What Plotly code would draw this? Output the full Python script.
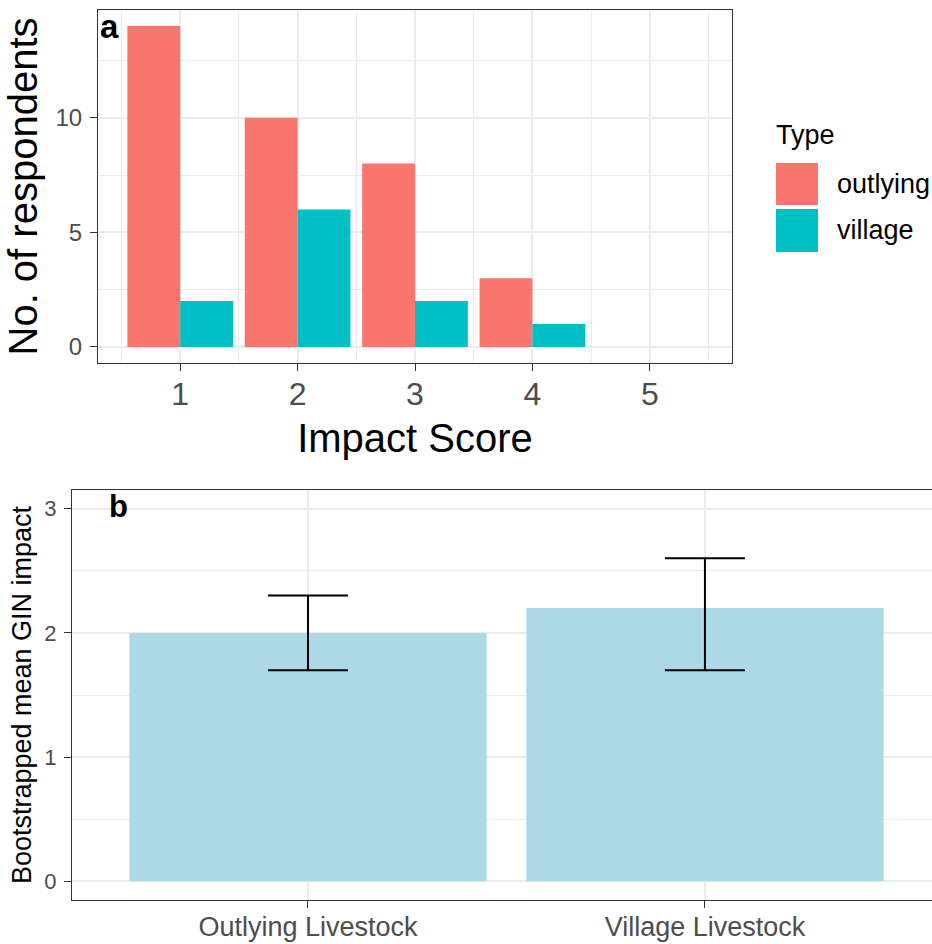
import plotly.graph_objects as go

# ---- data panel a ----
impact_scores = [1, 2, 3, 4]
score_ticks = [1, 2, 3, 4, 5]
outlying_counts = [14, 10, 8, 3]
village_counts = [2, 6, 2, 1]
count_ticks = [0, 5, 10]

# ---- data panel b ----
groups = ["Outlying Livestock", "Village Livestock"]
boot_mean = [2.0, 2.2]
ci_low = [1.7, 1.7]
ci_high = [2.3, 2.6]
gin_ticks = [0, 1, 2, 3]

RED = "#F8766D"
TEAL = "#00BFC4"
FONT = "Liberation Sans, Arial, sans-serif"
W, H = 932, 944

def px(x):
    return x / W

def py(y):
    return 1 - y / H

fig = go.Figure()

fig.add_trace(go.Bar(x=impact_scores, y=outlying_counts, name="outlying",
                     marker=dict(color=RED, line=dict(width=0)),
                     xaxis="x", yaxis="y", showlegend=False))
fig.add_trace(go.Bar(x=impact_scores, y=village_counts, name="village",
                     marker=dict(color=TEAL, line=dict(width=0)),
                     xaxis="x", yaxis="y", showlegend=False))

err_plus = [h - m for h, m in zip(ci_high, boot_mean)]
err_minus = [m - l for m, l in zip(boot_mean, ci_low)]
fig.add_trace(go.Bar(x=[1, 2], y=boot_mean, marker=dict(color="#ADD8E6", line=dict(width=0)),
                     width=0.9, xaxis="x2", yaxis="y2", showlegend=False,
                     error_y=dict(type="data", symmetric=False, array=err_plus,
                                  arrayminus=err_minus, color="black",
                                  thickness=2, width=40)))

grid = "#EBEBEB"
border = "#333333"
tickc = "#4D4D4D"

common = dict(showline=True, linecolor=border, linewidth=1.2, ticks="outside",
              ticklen=7, tickcolor=border, tickwidth=1.2, gridcolor=grid,
              gridwidth=1.5, zeroline=False, automargin=False)

fig.update_layout(
    width=W, height=H, margin=dict(l=0, r=0, t=0, b=0, autoexpand=False),
    plot_bgcolor="white", paper_bgcolor="white",
    barmode="group", bargap=0.1, bargroupgap=0,
    font=dict(family=FONT, color="black"),
    xaxis=dict(domain=[px(98), px(732)], anchor="y", range=[0.3, 5.7],
               tickvals=score_ticks, ticktext=[str(v) for v in score_ticks],
               mirror=True, tickfont=dict(size=32, color=tickc), ticklabelstandoff=-5,
               minor=dict(tickvals=[0.5, 1.5, 2.5, 3.5, 4.5, 5.5], showgrid=True,
                          gridcolor=grid, gridwidth=0.9, ticks=""),
               title=dict(text="Impact Score", font=dict(size=40, color="black"), standoff=13),
               **common),
    yaxis=dict(domain=[py(363), py(10)], anchor="x", range=[-0.7, 14.7],
               tickvals=count_ticks, ticktext=[str(v) for v in count_ticks],
               mirror=True, tickfont=dict(size=24, color=tickc), ticklabelstandoff=3,
               minor=dict(tickvals=[2.5, 7.5, 12.5], showgrid=True,
                          gridcolor=grid, gridwidth=0.9, ticks=""),
               title=dict(text="No. of respondents", font=dict(size=40, color="black"), standoff=5),
               **common),
    xaxis2=dict(domain=[px(72), 1.0], anchor="y2", range=[0.4055, 2.572],
                tickvals=[1, 2], ticktext=groups, mirror=True, ticklabelstandoff=-5,
                tickfont=dict(size=27, color=tickc), **common),
    yaxis2=dict(domain=[py(900), py(490)], anchor="x2", range=[-0.15, 3.15],
                tickvals=gin_ticks, ticktext=[str(v) for v in gin_ticks],
                tickfont=dict(size=22, color=tickc), ticklabelstandoff=3,
                minor=dict(tickvals=[0.5, 1.5, 2.5], showgrid=True,
                           gridcolor=grid, gridwidth=0.9, ticks=""),
                title=dict(text="Bootstrapped mean GIN impact", font=dict(size=27, color="black"), standoff=4),
                **common),
)

# panel tags
fig.add_annotation(text="<b>a</b>", x=px(98), y=py(26), xref="paper", yref="paper",
                   xanchor="left", yanchor="middle", showarrow=False,
                   font=dict(size=33, color="black", family=FONT))
fig.add_annotation(text="<b>b</b>", x=px(107), y=py(506), xref="paper", yref="paper",
                   xanchor="left", yanchor="middle", showarrow=False,
                   font=dict(size=31, color="black", family=FONT))

# custom legend
fig.add_annotation(text="Type", x=px(774), y=py(135), xref="paper", yref="paper",
                   xanchor="left", yanchor="middle", showarrow=False,
                   font=dict(size=27, color="black", family=FONT))
legend_items = [("outlying", RED, 163, 205), ("village", TEAL, 209, 252)]
for label, col, y0, y1 in legend_items:
    fig.add_shape(type="rect", xref="paper", yref="paper",
                  x0=px(776), x1=px(818), y0=py(y1), y1=py(y0),
                  fillcolor=col, line=dict(width=0))
    fig.add_annotation(text=label, x=px(835), y=py((y0 + y1) / 2), xref="paper", yref="paper",
                       xanchor="left", yanchor="middle", showarrow=False,
                       font=dict(size=27, color="black", family=FONT))

fig.write_html("out.html")
